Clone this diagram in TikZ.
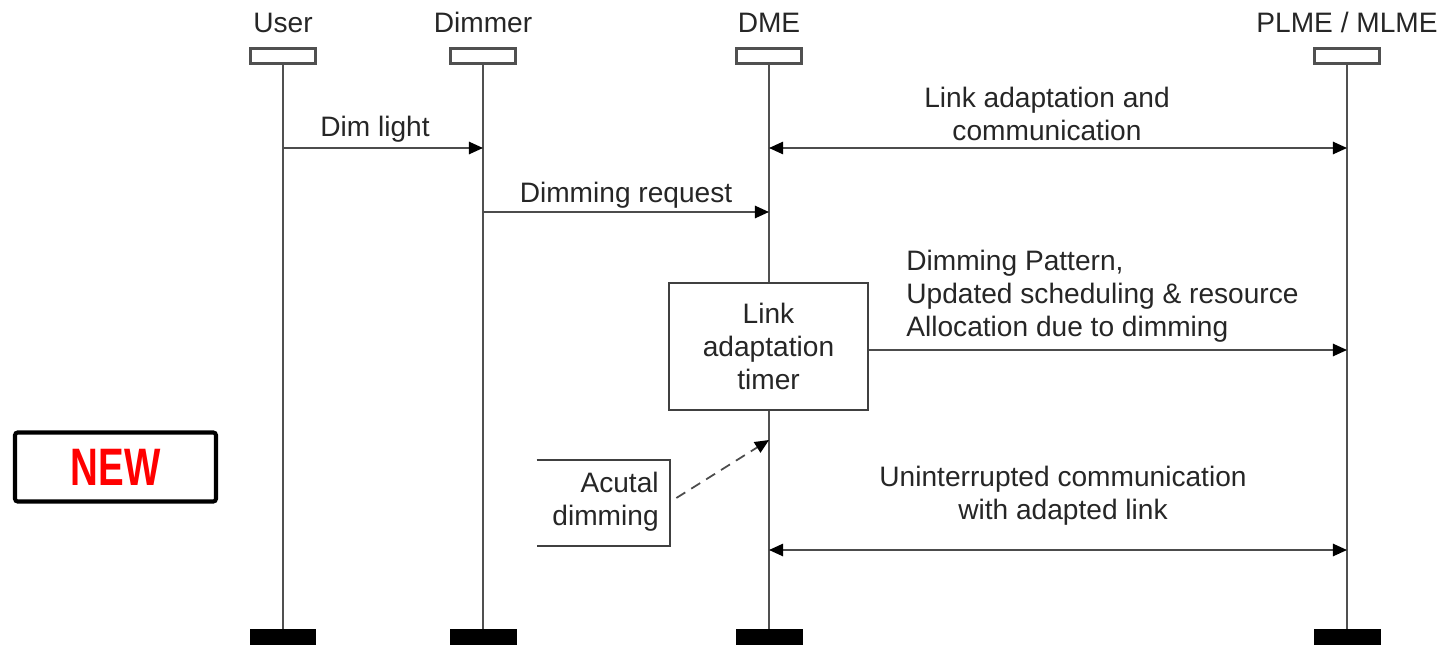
\documentclass[tikz,border=0pt]{standalone}
\usepackage{fontspec}
\setmainfont{Liberation Sans}
\usepackage{graphicx}
\usetikzlibrary{arrows.meta, positioning}
\definecolor{lifegray}{HTML}{505050}
\definecolor{textgray}{HTML}{262626}
\definecolor{newred}{HTML}{FF0000}

\begin{document}
\begin{tikzpicture}[
  x=0.02cm, y=-0.02cm,
  every node/.style={font=\fontsize{16}{18.7}\selectfont, text=textgray, inner sep=0pt},
  headbox/.style={draw=lifegray, line width=1.2pt, minimum width=1.3cm, minimum height=0.3cm},
  footbox/.style={fill=black, minimum width=1.34cm, minimum height=0.32cm},
  life/.style={draw=lifegray, line width=1pt},
  msg/.style={draw=black!70, line width=1pt, -{Triangle[length=8pt,width=7pt,color=black]}},
  dmsg/.style={msg, {Triangle[length=8pt,width=7pt,color=black]}-{Triangle[length=8pt,width=7pt,color=black]}},
  lbl/.style={align=center}
]
\useasboundingbox (0,0) rectangle (1439,645);

% lifeline heads and feet
\node[headbox] (uh) at (283,56) {};
\node[headbox] (dh) at (483,56) {};
\node[headbox] (eh) at (769,56) {};
\node[headbox] (ph) at (1347,56) {};
\node[anchor=base] at (283,33) {User};
\node[anchor=base] at (483,33) {Dimmer};
\node[anchor=base] at (769,33) {DME};
\node[anchor=base] at (1347,33) {PLME / MLME};
\node[footbox] (uf) at (283,637) {};
\node[footbox] (df) at (483,637) {};
\node[footbox] (ef) at (769,637) {};
\node[footbox] (pf) at (1347,637) {};
\draw[life] (uh) -- (uf);
\draw[life] (dh) -- (df);
\draw[life] (eh) -- (ef);
\draw[life] (ph) -- (pf);

% points on the lifelines
\coordinate (u1) at (283,148);
\coordinate (d1) at (483,148);
\coordinate (d2) at (483,212);
\coordinate (e1) at (769,148);
\coordinate (e2) at (769,212);
\coordinate (e3) at (769,440);
\coordinate (e4) at (769,550);
\coordinate (p1) at (1347,148);
\coordinate (p3) at (1347,350);
\coordinate (p4) at (1347,550);

% messages
\draw[msg] (u1) -- (d1);
\node[anchor=base] at (375,137) {Dim light};
\draw[dmsg] (e1) -- (p1);
\node[lbl] at (1047,114) {Link adaptation and\\communication};
\draw[msg] (d2) -- (e2);
\node[anchor=base] at (626,203) {Dimming request};

% timer
\node[draw=black!75, line width=1pt, fill=white, minimum width=3.98cm, minimum height=2.54cm, lbl] (timer) at (768.5,346.5) {Link\\adaptation\\timer};
\draw[msg] (timer.east |- p3) -- (p3);
\node[anchor=west, align=left] at (906,296) {Dimming Pattern,\\Updated scheduling \& resource\\Allocation due to dimming};

% note
\node[minimum width=2.66cm, minimum height=1.72cm] (note) at (603.5,503) {};
\draw[black!75, line width=1pt] (note.north west) -- (note.north east) -- (note.south east) -- (note.south west);
\node[anchor=east, align=right] at (659,502) {Acutal\\dimming};
\draw[msg, dash pattern=on 6pt off 4pt] (note.east) ++(6,-5) -- (e3);

\draw[dmsg] (e4) -- (p4);
\node[lbl] at (1063,496) {Uninterrupted communication\\with adapted link};

% new marker
\node[draw=black, line width=2.3pt, rounded corners=1.5pt, minimum width=4.02cm, minimum height=1.38cm] (new) at (115.5,467)
  {\textcolor{newred}{\scalebox{0.73}[1]{\fontsize{30}{30}\selectfont\bfseries NEW}}};
\end{tikzpicture}
\end{document}
